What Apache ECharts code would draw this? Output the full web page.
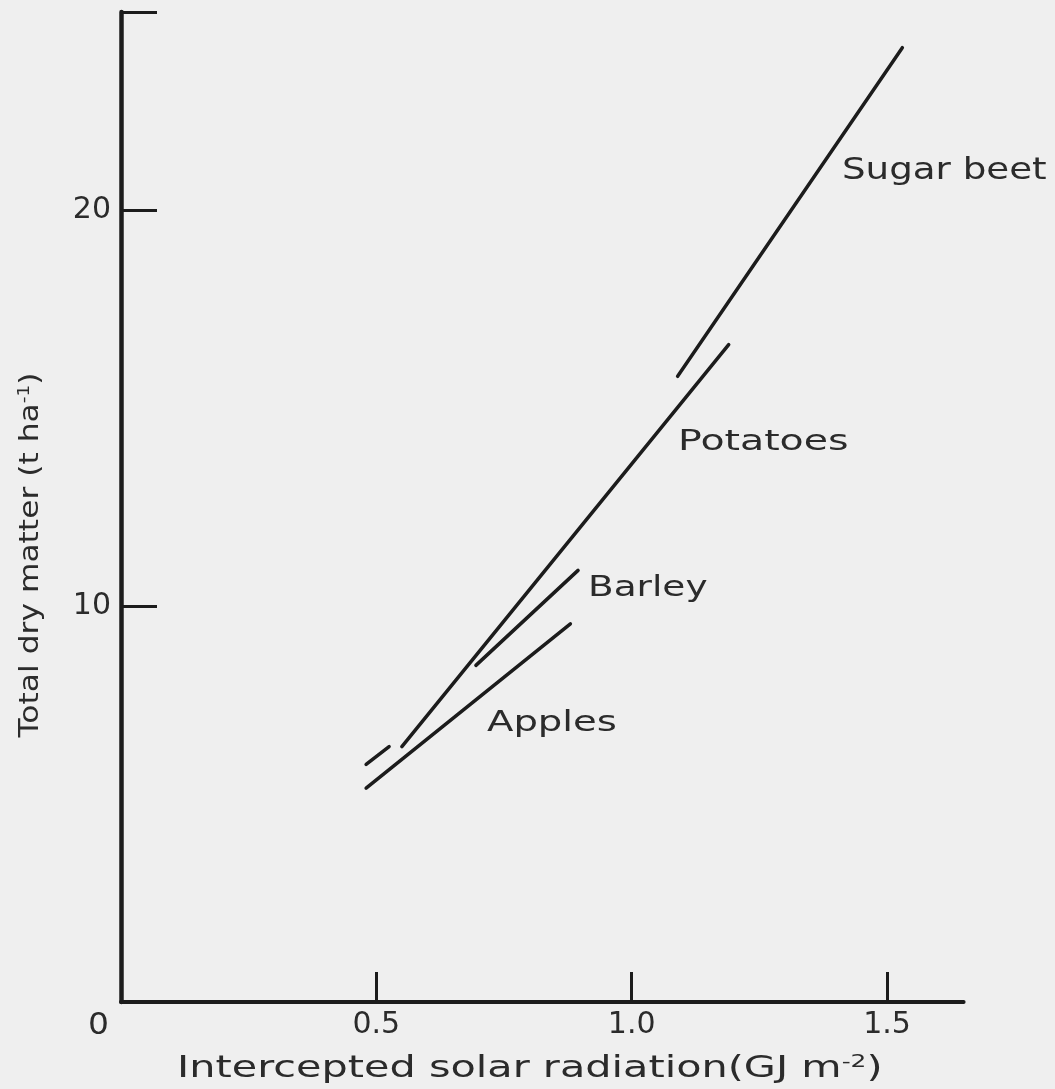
<!DOCTYPE html>
<html>
<head>
<meta charset="utf-8">
<title>Dry matter vs intercepted radiation</title>
<script src="https://cdn.jsdelivr.net/npm/echarts@6/dist/echarts.min.js"></script>
<style>
  html, body { margin: 0; padding: 0; background: #efefef; }
  #chart { width: 1055px; height: 1089px; }
</style>
</head>
<body>
<div id="chart"></div>
<script>
// Total dry matter (t/ha) against intercepted solar radiation (GJ/m2), one straight line per crop.
const sugarBeet = [[1.09, 15.8], [1.53, 24.1]];
const potatoes  = [[0.55, 6.45], [1.19, 16.6]];
// barley is broken where it runs under the potato line
const barley    = [[0.48, 6.0], [0.525, 6.45], [0.6, '-'], [0.695, 8.5], [0.895, 10.9]];
const apples    = [[0.48, 5.4], [0.88, 9.55]];

const xTicks = [0.5, 1.0, 1.5];
const yTicks = [10, 20];
const yTickMarks = [10, 20, 25];

const FONT = '"DejaVu Sans", sans-serif';
const INK = '#1c1c1c';
const TEXT = '#2b2b2b';

const chart = echarts.init(document.getElementById('chart'), null, { renderer: 'canvas' });

function lineSeries(name, data) {
  return {
    name: name,
    type: 'line',
    data: data,
    symbol: 'none',
    connectNulls: false,
    silent: true,
    lineStyle: { color: INK, width: 3.5, cap: 'round' }
  };
}

// free-standing text, stretched horizontally to the wide lettering of the figure
function label(text, x, y, size, sx, extra) {
  return Object.assign({
    type: 'text',
    x: x, y: y,
    scaleX: sx,
    silent: true,
    style: {
      text: text,
      font: size + 'px ' + FONT,
      fill: TEXT,
      textAlign: 'left',
      textVerticalAlign: 'middle'
    }
  }, extra || {});
}

chart.setOption({
  backgroundColor: '#efefef',
  animation: false,
  grid: { left: 121, right: 91.4, top: 12, bottom: 87 },
  xAxis: {
    type: 'value',
    min: 0, max: 1.65,
    splitLine: { show: false },
    axisLine: { lineStyle: { color: INK, width: 4 } },
    axisTick: { inside: true, length: 30, customValues: xTicks, lineStyle: { color: INK, width: 3 } },
    axisLabel: {
      customValues: xTicks,
      formatter: v => v.toFixed(1),
      margin: 8,
      fontFamily: FONT, fontSize: 30, color: TEXT
    }
  },
  yAxis: {
    type: 'value',
    min: 0, max: 25,
    splitLine: { show: false },
    axisLine: { lineStyle: { color: INK, width: 4.5 } },
    axisTick: { inside: true, length: 36, customValues: yTickMarks, lineStyle: { color: INK, width: 3 } },
    axisLabel: {
      customValues: yTicks,
      margin: 10,
      fontFamily: FONT, fontSize: 30, color: TEXT
    }
  },
  series: [
    lineSeries('Sugar beet', sugarBeet),
    lineSeries('Potatoes', potatoes),
    lineSeries('Barley', barley),
    lineSeries('Apples', apples)
  ],
  graphic: [
    label('Sugar beet', 842, 171, 30, 1.24),
    label('Potatoes', 678, 442, 29, 1.36),
    label('Barley', 588, 588, 29, 1.29),
    label('Apples', 487, 723, 29, 1.33),
    label('0', 88, 1026, 30, 1.1),
    {
      type: 'text',
      x: 177, y: 1069,
      scaleX: 1.38,
      silent: true,
      style: {
        text: '{n|Intercepted solar radiation(GJ m}{s|-2}{n|)}',
        fill: TEXT,
        textAlign: 'left',
        textVerticalAlign: 'middle',
        rich: {
          n: { fontFamily: FONT, fontSize: 30, fill: TEXT },
          s: { fontFamily: FONT, fontSize: 18, fill: TEXT, verticalAlign: 'top', padding: [0, 0, 14, 0] }
        }
      }
    },
    {
      type: 'text',
      x: 31, y: 555,
      rotation: Math.PI / 2,
      scaleX: 1.16,
      silent: true,
      style: {
        text: '{n|Total dry matter (t ha}{s|-1}{n|)}',
        fill: TEXT,
        textAlign: 'center',
        textVerticalAlign: 'middle',
        rich: {
          n: { fontFamily: FONT, fontSize: 27, fill: TEXT },
          s: { fontFamily: FONT, fontSize: 16, fill: TEXT, verticalAlign: 'top', padding: [0, 0, 12, 0] }
        }
      }
    }
  ]
});
</script>
</body>
</html>
